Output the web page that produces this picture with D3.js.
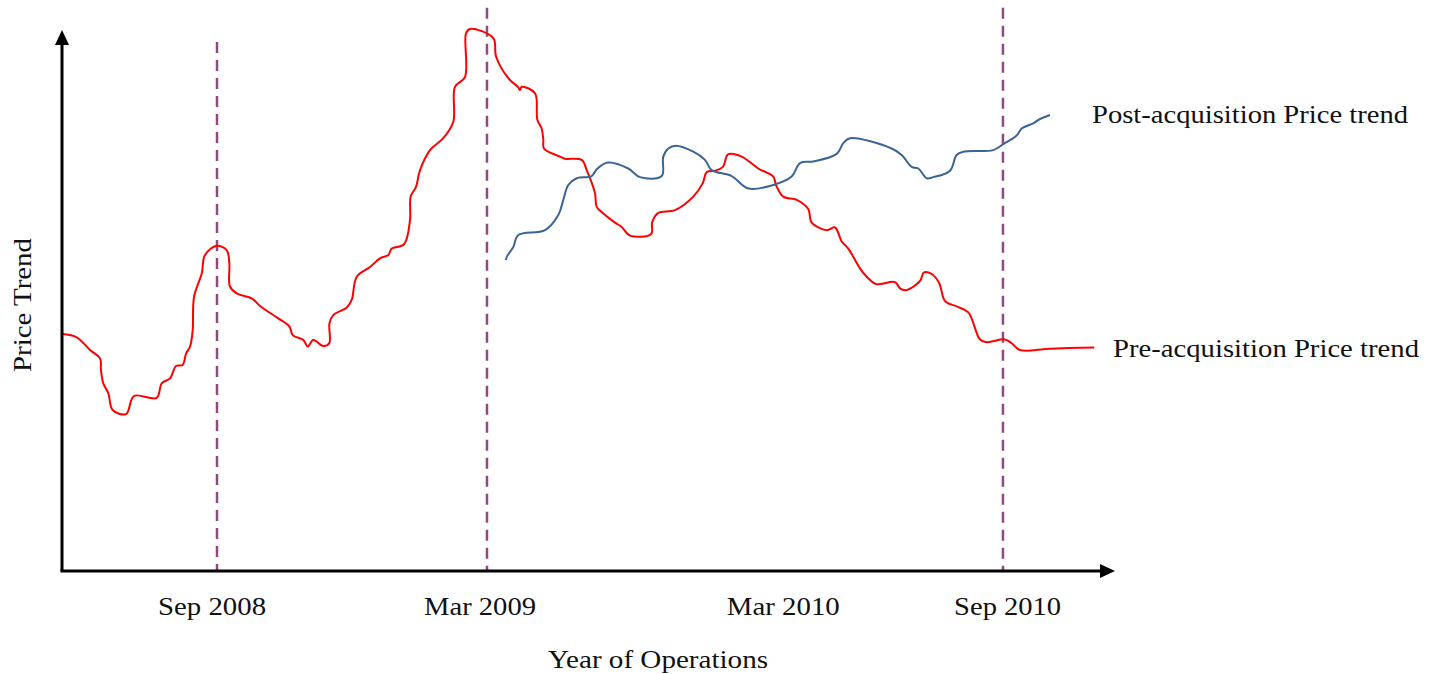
<!DOCTYPE html>
<html>
<head>
<meta charset="utf-8">
<script src="https://cdn.jsdelivr.net/npm/d3@7"></script>
<style>
  body { margin: 0; background: #fff; }
  svg text { font-family: "Liberation Serif", "DejaVu Serif", serif; fill: #111; }
</style>
</head>
<body>
<svg class="main-chart" width="1429" height="674"></svg>
<script>
// position along the operations timeline (0-100), price trend index (0-100)
var preX = [0, 1.4, 2.66, 3.61, 3.7, 3.92, 4.4, 4.81, 6.08, 6.84, 8.99, 9.47, 10.26, 10.83, 11.46, 11.78, 12.16, 12.41, 12.54, 13.27,
  13.58, 14.69, 15.64, 15.89, 15.95, 16.59, 18.02, 18.8, 20.54, 21.59, 21.91, 22.92, 23.33, 23.86, 24.81, 25.38, 25.4, 25.76, 27.04, 27.51,
  27.99, 29.25, 30.2, 30.99, 31.31, 32.48, 33.05, 33.11, 33.62, 34.0, 34.95, 36.21, 37.16, 37.32, 38.27, 38.37, 38.75, 40.96, 41.22, 42.38,
  43.33, 43.49, 43.66, 44.92, 45.14, 45.55, 45.71, 45.77, 47.29, 47.77, 49.35, 49.83, 50.62, 50.78, 51.41, 52.52, 53.15, 53.94, 55.95, 56.05,
  56.63, 58.21, 59.95, 60.85, 61.23, 62.01, 62.77, 63.25, 64.55, 66.12, 67.55, 67.81, 68.5, 69.77, 70.87, 71.19, 72.62, 73.41, 74.05, 74.67,
  75.78, 76.42, 77.3, 79.11, 79.58, 80.15, 81.48, 81.86, 82.59, 83.31, 83.86, 84.97, 86.07, 87.18, 87.81, 89.55, 90.19, 90.98, 93.83, 98.03];
var preY = [43.8, 43.2, 40.85, 39.3, 37.15, 34.7, 32.85, 29.76, 29.0, 32.35, 32.0, 34.7, 35.6, 37.9, 38.1, 40.2, 41.5, 44.5, 50.7, 55.0,
  58.4, 60.1, 59.3, 56.9, 52.6, 51.3, 50.4, 49.0, 46.7, 45.2, 43.6, 42.7, 41.5, 42.7, 41.6, 42.1, 45.8, 47.3, 48.7, 50.1,
  54.4, 56.2, 57.8, 58.4, 59.6, 60.4, 64.9, 69.2, 71.0, 74.1, 77.8, 80.0, 83.05, 89.5, 91.3, 99.4, 100.2, 98.5, 95.1, 91.1,
  89.4, 88.9, 89.5, 88.3, 83.4, 81.8, 79.7, 78.1, 76.6, 76.2, 76.0, 74.1, 69.8, 67.3, 66.1, 64.4, 63.6, 62.0, 62.3, 64.5,
  66.2, 66.7, 69.2, 71.7, 73.75, 74.0, 74.7, 77.0, 76.6, 74.4, 72.9, 71.35, 69.2, 68.6, 66.9, 64.4, 63.0, 63.5, 60.9, 59.6,
  55.95, 54.4, 53.05, 53.4, 52.25, 51.9, 53.6, 55.2, 54.9, 53.2, 49.9, 48.9, 47.8, 42.8, 42.3, 42.8, 42.1, 40.85, 41.1, 41.3];

var postX = [42.14, 42.3, 42.86, 43.33, 45.87, 47.13, 47.61, 48.08, 48.88, 50.3, 50.78, 51.82, 53.78, 54.89, 56.95, 57.1, 57.58, 58.31, 59.95, 61.06, 61.7,
  63.6, 65.18, 67.55, 69.29, 70.09, 71.35, 73.57, 74.2, 74.83, 78.79, 79.74, 80.69, 81.32, 82.12, 82.75, 84.33, 84.96, 85.59, 88.44, 89.39,
  90.66, 91.14, 92.24, 92.88, 93.83];
var postY = [57.5, 58.3, 59.9, 62.1, 63.0, 65.8, 68.6, 71.35, 72.6, 73.0, 74.25, 75.5, 74.4, 72.8, 73.0, 76.6, 78.1, 78.6, 77.5, 76.0, 74.1,
  73.0, 70.7, 71.35, 72.9, 75.4, 75.7, 77.1, 79.1, 80.0, 78.1, 76.9, 74.7, 74.4, 72.6, 72.8, 74.0, 76.9, 77.5, 77.8, 78.9,
  80.5, 81.8, 82.75, 83.55, 84.3];

var tickLabels = ["Sep 2008", "Mar 2009", "Mar 2010", "Sep 2010"];
var tickPos = [14.25, 39.7, 68.5, 89.8];

var markerPos = [14.72, 40.36, 89.36];
var markerTop = [97.8, 104.1, 104.1];

var seriesNames = ["Post-acquisition Price trend", "Pre-acquisition Price trend"];

////////////////////////////////////////////////////////////////
var svg = d3.select("svg.main-chart");

var xScale = d3.scaleLinear().domain([0, 100]).range([62, 1115]);
var yScale = d3.scaleLinear().domain([0, 100]).range([571, 30]);

var pre = preX.map((x, i) => ({x: x, y: preY[i]}));
var post = postX.map((x, i) => ({x: x, y: postY[i]}));

var line = d3.line()
  .x(d => xScale(d.x))
  .y(d => yScale(d.y))
  .curve(d3.curveCatmullRom.alpha(0.5));

// dashed event markers
svg.selectAll("line.marker")
  .data(markerPos)
  .enter()
  .append("line")
  .attr("class", "marker")
  .attr("x1", d => xScale(d))
  .attr("x2", d => xScale(d))
  .attr("y1", (d, i) => yScale(markerTop[i]))
  .attr("y2", yScale(0))
  .attr("stroke", "#8f4a80")
  .attr("stroke-width", 2.5)
  .attr("stroke-dasharray", "11,7");

svg.append("path")
  .datum(pre)
  .attr("d", line)
  .attr("fill", "none")
  .attr("stroke", "#ff0000")
  .attr("stroke-width", 2);

svg.append("path")
  .datum(post)
  .attr("d", line)
  .attr("fill", "none")
  .attr("stroke", "#3a6496")
  .attr("stroke-width", 2);

// axes with arrow heads
var x0 = xScale(0), y0 = yScale(0);
svg.append("line")
  .attr("x1", x0).attr("y1", y0)
  .attr("x2", x0).attr("y2", yScale(100) + 12)
  .attr("stroke", "#000").attr("stroke-width", 3);
svg.append("path")
  .attr("d", "M" + x0 + "," + yScale(100) + " l-7,15 l14,0 z")
  .attr("fill", "#000");

svg.append("line")
  .attr("x1", x0 - 1.5).attr("y1", y0)
  .attr("x2", xScale(100) - 12).attr("y2", y0)
  .attr("stroke", "#000").attr("stroke-width", 3);
svg.append("path")
  .attr("d", "M" + xScale(100) + "," + y0 + " l-15,-7 l0,14 z")
  .attr("fill", "#000");

// tick labels (Goudy-like width via textLength)
var tickWidth = [108, 112, 113, 107];
svg.selectAll("text.tick")
  .data(tickLabels)
  .enter()
  .append("text")
  .attr("class", "tick")
  .attr("x", (d, i) => xScale(tickPos[i]))
  .attr("y", 615)
  .attr("text-anchor", "middle")
  .attr("textLength", (d, i) => tickWidth[i])
  .attr("lengthAdjust", "spacingAndGlyphs")
  .style("font-size", "26px")
  .text(d => d);

svg.append("text")
  .attr("x", 658)
  .attr("y", 668)
  .attr("text-anchor", "middle")
  .attr("textLength", 220)
  .attr("lengthAdjust", "spacingAndGlyphs")
  .style("font-size", "26px")
  .text("Year of Operations");

svg.append("text")
  .attr("transform", "translate(31,305)rotate(-90)")
  .attr("text-anchor", "middle")
  .attr("textLength", 134)
  .attr("lengthAdjust", "spacingAndGlyphs")
  .style("font-size", "26px")
  .text("Price Trend");

// series labels
svg.append("text")
  .attr("x", 1092)
  .attr("y", 123)
  .attr("textLength", 316)
  .attr("lengthAdjust", "spacingAndGlyphs")
  .style("font-size", "26px")
  .text(seriesNames[0]);

svg.append("text")
  .attr("x", 1113)
  .attr("y", 357)
  .attr("textLength", 306)
  .attr("lengthAdjust", "spacingAndGlyphs")
  .style("font-size", "26px")
  .text(seriesNames[1]);
</script>
</body>
</html>
